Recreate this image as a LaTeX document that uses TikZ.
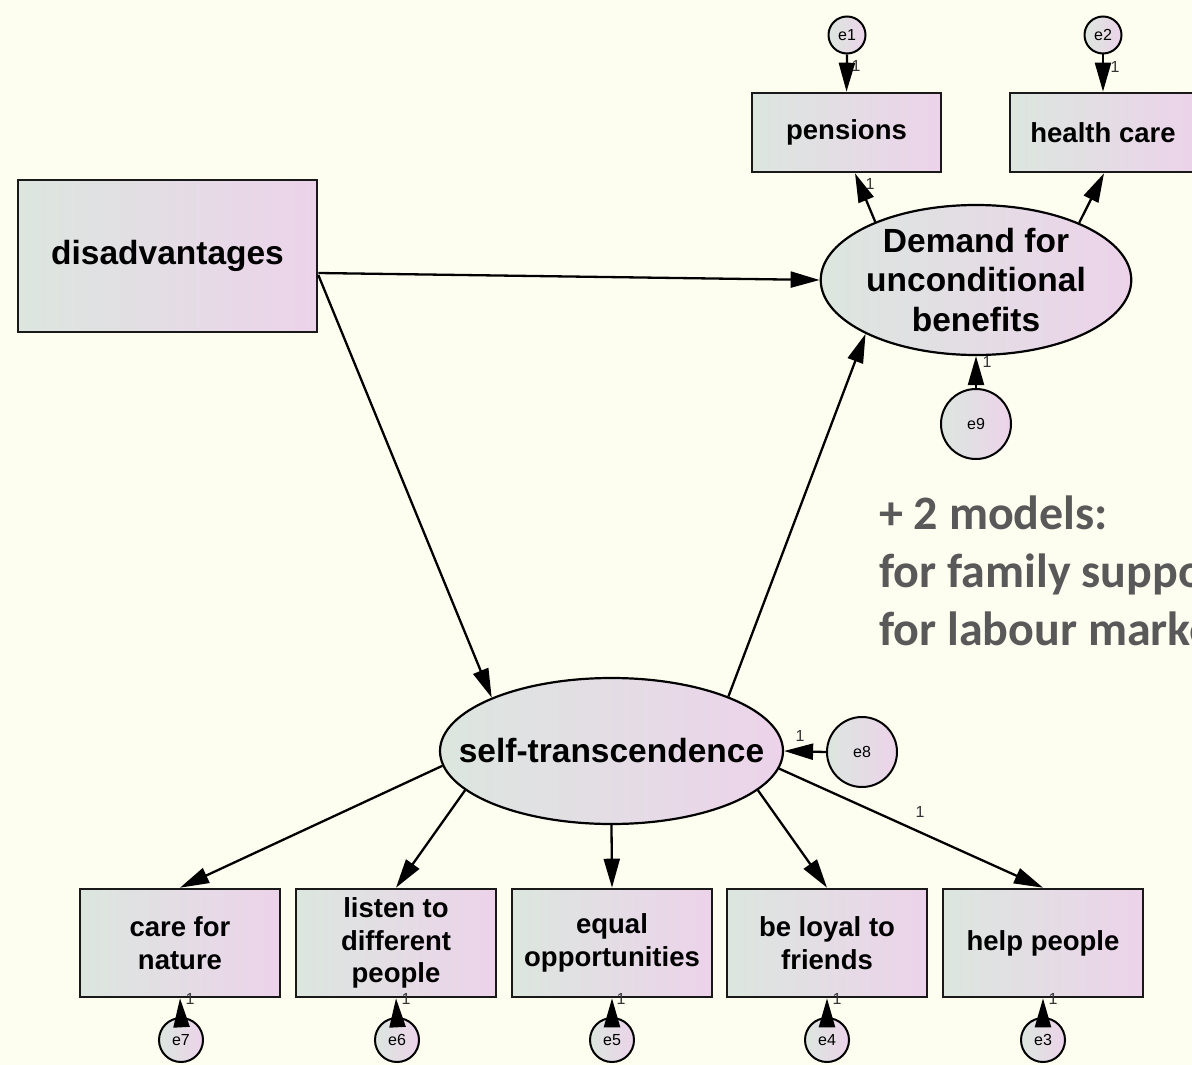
\documentclass[tikz,border=0pt]{standalone}
\usepackage{fontspec}
\setmainfont{Liberation Sans}
\newfontfamily\calib{Carlito}
\usetikzlibrary{arrows.meta,shapes.geometric,calc}
\definecolor{bgc}{HTML}{FEFEF0}
\definecolor{cL}{HTML}{DCE6DF}
\definecolor{cR}{HTML}{ECD3EA}
\definecolor{gtxt}{HTML}{595959}
\newcommand{\bigfnt}{\bfseries\fontsize{33.5}{39.5}\selectfont}
\newcommand{\midfnt}{\bfseries\fontsize{27.5}{32.5}\selectfont}
\newcommand{\efnt}{\fontsize{16}{18}\selectfont}
\newcommand{\onefnt}{\fontsize{16}{18}\selectfont}
\newcommand{\notefnt}{\calib\bfseries\fontsize{48}{58}\selectfont}
\tikzset{
  obs/.style={rectangle, draw=black!90, line width=2.6pt, left color=cL, right color=cR,
    align=center, font=\midfnt, inner sep=0pt, minimum width=200pt, minimum height=108pt},
  lat/.style={ellipse, draw=black, line width=2.2pt, left color=cL, right color=cR,
    align=center, font=\bigfnt, inner sep=0pt},
  err/.style={circle, draw=black, line width=2pt, left color=cL, right color=cR,
    font=\efnt, inner sep=0pt},
  arr/.style={-{Triangle[length=29pt,width=16pt]}, line width=2.3pt, draw=black},
  one/.style={font=\onefnt, inner sep=0pt, text=black!80},
  note/.style={font=\notefnt, text=gtxt, inner sep=0pt, anchor=base west}
}
\begin{document}
\begin{tikzpicture}[x=1pt,y=-1pt]
\useasboundingbox (0,0) rectangle (1192,1065);
\fill[bgc] (0,0) rectangle (1192,1065);

% observed variables
\node[obs, minimum width=299pt, minimum height=152pt, font=\bigfnt] (dis) at (167.5,256) {disadvantages};
\node[obs, minimum width=189pt, minimum height=79pt] (pen) at (846.5,132.5) {pensions};
\node[obs, minimum width=186pt, minimum height=79pt] (hc) at (1103,132.5) {health care};
\node[obs] (b1) at (180,943) {care for\\nature};
\node[obs] (b2) at (396,943) {listen to\\different\\people};
\node[obs] (b3) at (612,943) {equal\\opportunities};
\node[obs] (b4) at (827,943) {be loyal to\\friends};
\node[obs] (b5) at (1043,943) {help people};

% latent variables
\node[lat, minimum width=308pt, minimum height=150pt] (D) at (976,280) {Demand for\\unconditional\\benefits};
\node[lat, minimum width=343pt, minimum height=146pt, inner xsep=-33pt] (st) at (611.5,751) {self-transcendence};

% error terms
\node[err, minimum size=37pt] (e1) at (847,35) {e1};
\node[err, minimum size=37pt] (e2) at (1103,35) {e2};
\node[err, minimum size=70pt] (e9) at (976,424) {e9};
\node[err, minimum size=70pt] (e8) at (862,752) {e8};
\node[err, minimum size=44pt] (e7) at (181,1040) {e7};
\node[err, minimum size=44pt] (e6) at (397,1040) {e6};
\node[err, minimum size=44pt] (e5) at (612,1040) {e5};
\node[err, minimum size=44pt] (e4) at (827,1040) {e4};
\node[err, minimum size=44pt] (e3) at (1043,1040) {e3};

% structural paths
\draw[arr] ([yshift=-17pt]dis.east) -- (D.180);
\draw[arr] ([yshift=-19pt]dis.east) -- (st.156);
\draw[arr] (st.25.7) -- (D.206.7);
\draw[arr] (D.150.4) -- ([xshift=8.5pt]pen.south);
\draw[arr] (D.29.9) -- ([xshift=1pt]hc.south);
\draw[arr] (st.185) -- (b1.north);
\draw[arr] (st.195) -- (b2.north);
\draw[arr] (st.270) -- (b3.north);
\draw[arr] (st.345.3) -- (b4.north);
\draw[arr] (st.354.6) -- (b5.north);

% error paths
\draw[arr] (e1.south) -- (pen.north);
\draw[arr] (e2.south) -- (hc.north);
\draw[arr] (e9.north) -- (D.south);
\draw[arr] (e8.west) -- (st.east);
\draw[arr] (e7.north) -- (b1.south);
\draw[arr] (e6.north) -- (b2.south);
\draw[arr] (e5.north) -- (b3.south);
\draw[arr] (e4.north) -- (b4.south);
\draw[arr] (e3.north) -- (b5.south);

% labels "1"
\node[one] (l1) at (856,66) {1};
\node[one] (l2) at (1115,67) {1};
\node[one] (l3) at (870,184) {1};
\node[one] (l4) at (987,362) {1};
\node[one] (l5) at (800,736) {1};
\node[one] (l6) at (920,812) {1};
\node[one] (l7) at (190,999) {1};
\node[one] (l8) at (406,999) {1};
\node[one] (l9) at (621,999) {1};
\node[one] (l10) at (837,999) {1};
\node[one] (l11) at (1053,999) {1};

% note
\node[note] (n1) at (879,529) {+ 2 models:};
\node[note] (n2) at (879,587) {for family suppo};
\node[note] (n3) at (879,645) {for labour marke};
\end{tikzpicture}
\end{document}
